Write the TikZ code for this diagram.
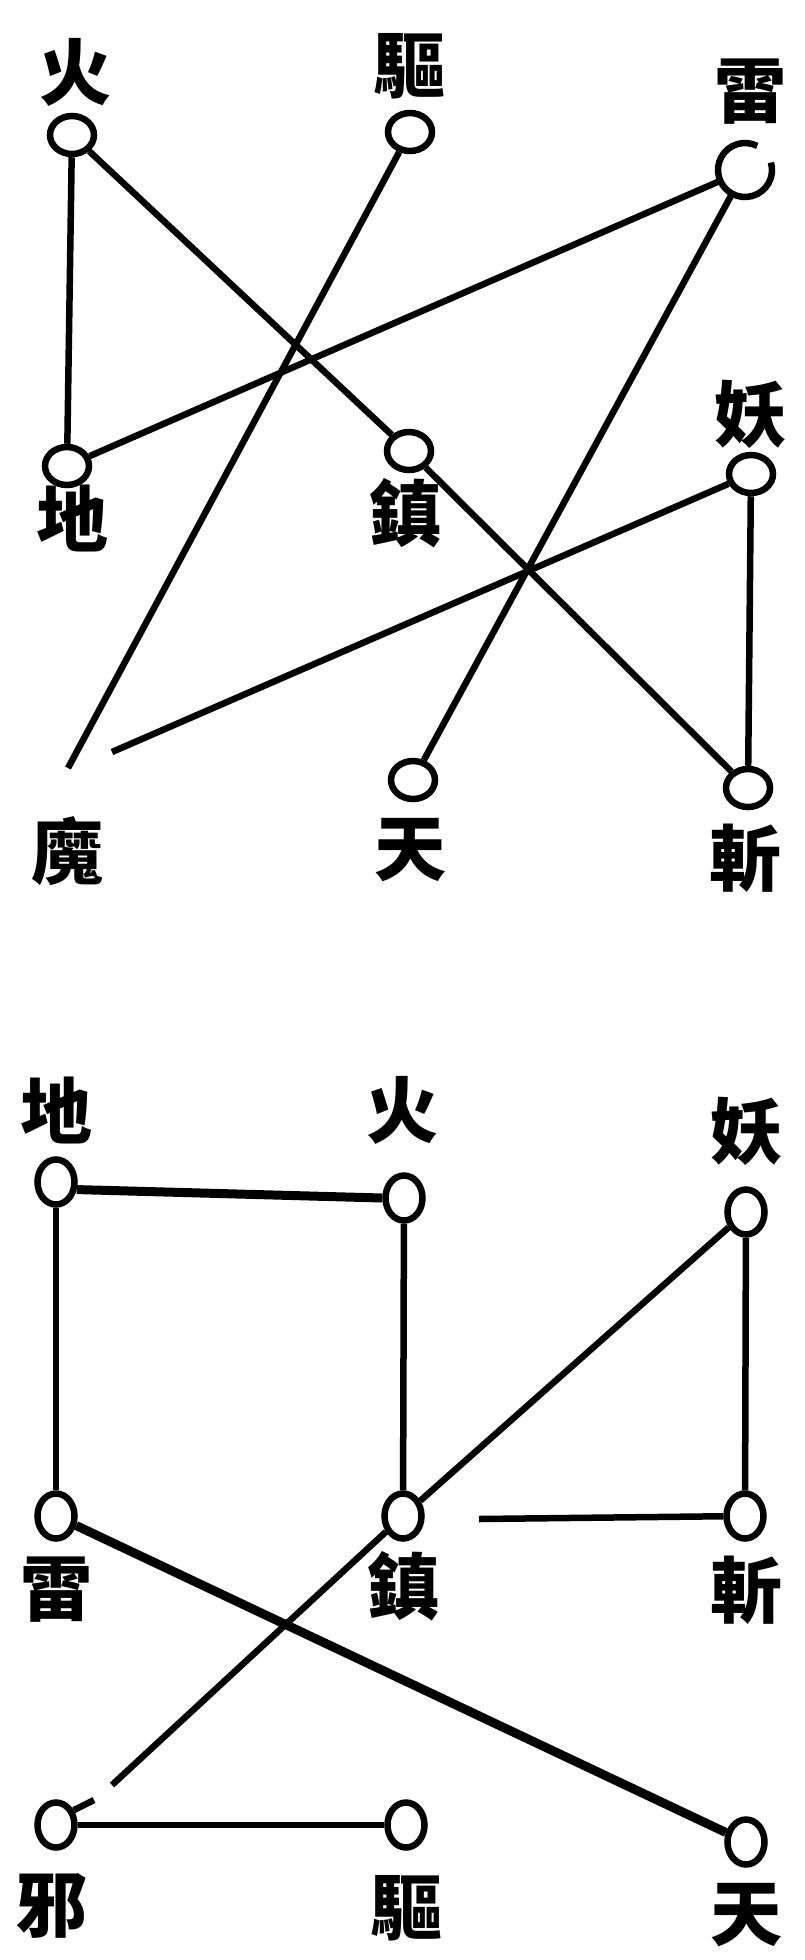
\documentclass[tikz,border=0pt]{standalone}
\usepackage{fontspec}
\newfontfamily\cjk{Noto Sans CJK TC}
\usetikzlibrary{shapes.geometric}
\tikzset{
  ring/.style={ellipse, draw, line width=6.5pt, minimum width=44pt, minimum height=38pt, inner sep=0pt},
  ringv/.style={ellipse, draw, line width=6.5pt, minimum width=37pt, minimum height=45pt, inner sep=0pt},
  hole/.style={ellipse, minimum width=58pt, minimum height=58pt, inner sep=0pt},
  lab/.style={font=\cjk\bfseries\fontsize{72}{72}\selectfont, inner sep=0pt},
  link/.style={line width=6.5pt},
  thick link/.style={line width=9pt}
}
\begin{document}
\begin{tikzpicture}[x=1pt,y=-1pt]
\useasboundingbox (0,0) rectangle (804,1960);
% ---------- upper figure ----------
\node[lab] (Lhuo) at (75,72) {火};
\node[lab] (Lqu) at (409,66) {驅};
\node[lab] (Llei) at (750,92) {雷};
\node[lab] (Ldi) at (72,518) {地};
\node[lab] (Lzhen) at (405,513) {鎮};
\node[lab] (Lyao) at (750,414) {妖};
\node[lab] (Lmo) at (67,851) {魔};
\node[lab] (Ltian) at (410,850) {天};
\node[lab] (Lzhan) at (745,858) {斬};

\node[ring] (huo) at (72,135) {};
\node[ring] (qu) at (410,132) {};
\node[hole] (lei) at (745,170) {};
\draw[line width=6.5pt] (lei.center) ++(-16:27) arc[start angle=-16, end angle=297, radius=27];
\node[ring] (di) at (67,466) {};
\node[ring] (zhen) at (409,451) {};
\node[ring] (yao) at (751,474) {};
\node[ring] (tian) at (413,780) {};
\node[ring] (zhan) at (748,788) {};
\coordinate (moA) at (68,768);
\coordinate (moB) at (112,752);

\draw[link] (huo) -- (di);
\draw[link] (huo) -- (zhen);
\draw[link] (zhen) -- (zhan);
\draw[link] (qu) -- (moA);
\draw[link] (lei) -- (di);
\draw[link] (lei) -- (tian);
\draw[link] (yao) -- (moB);
\draw[link] (yao) -- (zhan);

% ---------- lower figure ----------
\node[lab] (Ldi2) at (56,1110) {地};
\node[lab] (Lhuo2) at (402,1110) {火};
\node[lab] (Lyao2) at (746,1131) {妖};
\node[lab] (Llei2) at (56,1590) {雷};
\node[lab] (Lzhen2) at (403,1586) {鎮};
\node[lab] (Lzhan2) at (746,1590) {斬};
\node[lab] (Lxie2) at (52,1906) {邪};
\node[lab] (Lqu2) at (406,1908) {驅};
\node[lab] (Ltian2) at (746,1915) {天};

\node[ringv] (di2) at (56,1182) {};
\node[ringv] (huo2) at (404,1198) {};
\node[ringv] (yao2) at (746,1212) {};
\node[ringv] (lei2) at (56,1516) {};
\node[ringv] (zhen2) at (403,1516) {};
\node[ringv] (zhan2) at (745,1516) {};
\node[ringv] (xie2) at (56,1825) {};
\node[ringv] (qu2) at (406,1825) {};
\node[ringv] (tian2) at (746,1842) {};
\coordinate (xieA) at (112,1785);
\coordinate (xieT) at (94,1800);
\coordinate (zhanA) at (479,1519);

\draw[thick link] (di2.-20) -- (huo2.west);
\draw[link] (di2) -- (lei2);
\draw[link] (huo2) -- (zhen2);
\draw[link] (yao2) -- (zhan2);
\draw[link] (yao2) -- (zhen2);
\draw[link] (zhen2) -- (xieA);
\draw[link] (xie2.40) -- (xieT);
\draw[link] (zhanA) -- (zhan2);
\draw[thick link] (lei2) -- (tian2);
\draw[link] (xie2) -- (qu2);
\end{tikzpicture}
\end{document}
